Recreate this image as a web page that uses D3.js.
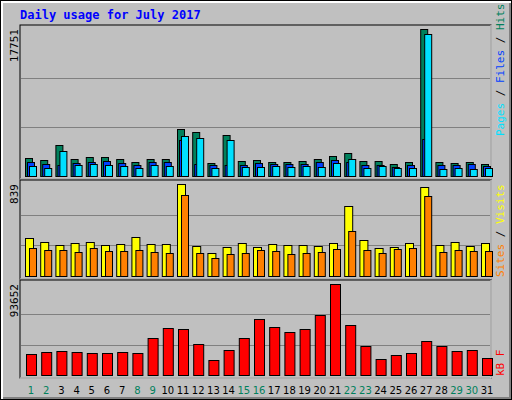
<!DOCTYPE html><html><head><script src="https://cdn.jsdelivr.net/npm/d3@7"></script>
<style>body{margin:0;background:#fff}</style></head><body><svg id="c" width="512" height="400"></svg>
<script>
const days=d3.range(1,32).map(String);
const weekend=["1","2","8","9","15","16","22","23","29","30"];
const hits=[2133,1892,3703,2013,2254,2254,2013,1650,2013,2013,5635,5273,1530,4911,1771,1892,1650,1650,1771,2013,2375,2737,1771,1771,1409,1650,17751,1650,1530,1650,1409];
const files=[1650,1409,1288,1530,1650,1771,1530,1288,1650,1650,4307,1409,1288,1288,1288,1530,1409,1409,1409,1650,1892,1650,1288,1288,1047,1288,4428,1288,1288,1409,1167];
const pages=[1167,926,2979,1288,1409,1288,1167,926,1288,1167,4790,4548,926,4307,1047,1047,1167,1047,1167,1047,1530,2013,926,1167,926,926,17147,805,926,805,926];
const visits=[347,310,283,301,310,283,292,356,292,292,839,274,210,264,301,264,292,283,283,274,301,638,328,255,264,301,812,283,310,274,301];
const sites=[255,237,237,219,255,228,228,237,219,210,739,210,164,201,210,237,228,201,210,219,246,410,237,210,246,255,730,219,237,228,228];
const kbytes=[21610,23667,24696,23667,22638,22638,23667,22638,38073,48363,47334,31899,15435,25725,38073,57624,49392,44247,47334,61740,93652,51450,29841,16464,20580,22638,34986,29841,24696,25725,17493];
const maxes=[17751,839,93652];
const svg=d3.select("#c");
// background & bevels
svg.append("rect").attr("x",0).attr("y",0).attr("width",512).attr("height",400).attr("fill","#000");
svg.append("rect").attr("x",1).attr("y",1).attr("width",510).attr("height",398).attr("fill","#fff");
svg.append("rect").attr("x",3).attr("y",3).attr("width",508).attr("height",396).attr("fill","#808080");
svg.append("rect").attr("x",3).attr("y",3).attr("width",506).attr("height",394).attr("fill","#c0c0c0");
svg.append("text").attr("x",20).attr("y",19).text("Daily usage for July 2017").attr("fill","#0000ff").attr("font-family","DejaVu Sans Mono").attr("font-weight","bold").attr("font-size",12);
const x=d3.scaleBand().domain(days).range([20,491]).paddingInner(0).paddingOuter(0);
// x offset: slot 15 starting at 20; bars start 5px in
const sx=d=>20+(+d-1)*15.2;
const panels=[{t:25,b:179},{t:180,b:279},{t:280,b:378}];
panels.forEach(p=>{
 svg.append("rect").attr("x",20).attr("y",p.t).attr("width",471).attr("height",p.b-p.t).attr("fill","#c0c0c0").attr("stroke","#000");
 svg.append("line").attr("x1",491).attr("x2",491).attr("y1",p.t).attr("y2",p.b).attr("stroke","#fff");
 svg.append("line").attr("x1",20).attr("x2",491).attr("y1",p.b).attr("y2",p.b).attr("stroke","#fff");
});
function panel(i,base,top,series){
 const y=d3.scaleLinear().domain([0,maxes[i]]).range([base,top]);
 [1/3,2/3].forEach(f=>svg.append("line").attr("x1",21).attr("x2",490).attr("y1",Math.round(y(maxes[i]*f))+0.5).attr("y2",Math.round(y(maxes[i]*f))+0.5).attr("stroke","#808080"));
 series.forEach(s=>{
  svg.append("g").selectAll("rect").data(s.data).join("rect")
   .attr("x",(d,j)=>sx(days[j])+s.off+0.5).attr("width",s.w)
   .attr("y",d=>Math.round(y(d))+0.5).attr("height",d=>base-Math.round(y(d)))
   .attr("fill",s.c).attr("stroke","#000");
 });
 svg.append("text").attr("transform",`translate(18,${top}) rotate(-90)`).attr("text-anchor","end")
  .attr("font-family","DejaVu Sans Mono").attr("font-size",11).text(maxes[i]);
}
panel(0,176,29,[{data:hits,off:5,w:7,c:"#00805c"},{data:files,off:7,w:7,c:"#0040ff"},{data:pages,off:9,w:7,c:"#00e0ff"}]);
panel(1,276,184,[{data:visits,off:5,w:8,c:"#ffff00"},{data:sites,off:9,w:7,c:"#ff8000"}]);
panel(2,375,284,[{data:kbytes,off:6,w:10,c:"#ff0000"}]);
svg.append("g").selectAll("text").data(days).join("text").attr("x",d=>sx(d)+11).attr("y",394).attr("text-anchor","middle")
 .attr("font-family","DejaVu Sans").attr("font-size",10).attr("fill",d=>weekend.includes(d)?"#00805c":"#000").text(d=>d);
function vlabel(xp,yp,parts){
 const t=svg.append("text").attr("transform",`translate(${xp},${yp}) rotate(-90)`).attr("font-family","DejaVu Sans Mono").attr("font-size",11);
 parts.forEach(p=>t.append("tspan").attr("fill",p[1]).text(p[0]));
}
vlabel(504,136,[["Pages","#00e0ff"],[" / ","#000"],["Files","#0040ff"],[" / ","#000"],["Hits","#00805c"]]);
vlabel(504,277,[["Sites","#ff8000"],[" / ","#000"],["Visits","#ffff00"]]);
vlabel(504,376,[["kB F","#ff0000"]]);
</script></body></html>
